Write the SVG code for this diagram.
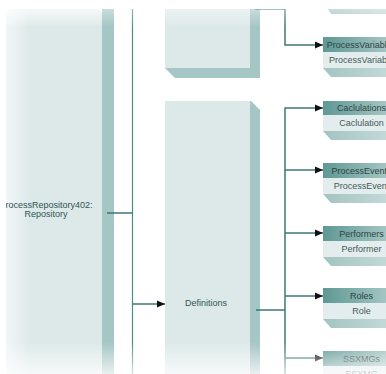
<svg xmlns="http://www.w3.org/2000/svg" width="386" height="374" viewBox="0 0 386 374">
<defs>
<style>
.node{fill:#dde9e9}
.shadow{fill:#a4c6c4}
.hdr{fill:url(#hdrGrad)}
.body{fill:#e3eded}
.bshadow{fill:url(#bshGrad)}
.ht{font-family:"Liberation Sans",Arial,sans-serif;font-size:9px;fill:#2e4443;text-anchor:middle}
.bt{font-family:"Liberation Sans",Arial,sans-serif;font-size:9px;fill:#445a59;text-anchor:middle}
.nt{font-family:"Liberation Sans",Arial,sans-serif;font-size:9px;fill:#2f5553;text-anchor:middle}
.ln{fill:none;stroke:#3d7773;stroke-width:1.5}
</style>
<linearGradient id="hdrGrad" x1="0" y1="0" x2="1" y2="0">
<stop offset="0" stop-color="#5e9894"/>
<stop offset="1" stop-color="#b3cfcd"/>
</linearGradient>
<linearGradient id="bshGrad" x1="0" y1="0" x2="1" y2="0">
<stop offset="0" stop-color="#a2c4c2"/>
<stop offset="1" stop-color="#c9dddc"/>
</linearGradient>
<linearGradient id="leftGlow" x1="0" y1="0" x2="1" y2="0">
<stop offset="0" stop-color="#ffffff" stop-opacity="0.6"/>
<stop offset="1" stop-color="#ffffff" stop-opacity="0"/>
</linearGradient>
<linearGradient id="topGlow" x1="0" y1="0" x2="0" y2="1">
<stop offset="0" stop-color="#ffffff" stop-opacity="0.5"/>
<stop offset="1" stop-color="#ffffff" stop-opacity="0"/>
</linearGradient>
<linearGradient id="topFade" x1="0" y1="0" x2="0" y2="1">
<stop offset="0" stop-color="#ffffff" stop-opacity="0.4"/>
<stop offset="1" stop-color="#ffffff" stop-opacity="0"/>
</linearGradient>
<linearGradient id="botFade" x1="0" y1="0" x2="0" y2="1">
<stop offset="0" stop-color="#ffffff" stop-opacity="0"/>
<stop offset="1" stop-color="#ffffff" stop-opacity="0.75"/>
</linearGradient>
<marker id="arr" viewBox="0 0 8 8" refX="8" refY="4" markerWidth="8" markerHeight="8" markerUnits="userSpaceOnUse" orient="auto">
<path d="M0,0.5 L8,4 L0,7.5 Z" fill="#111"/>
</marker>
<clipPath id="leftClip"><rect x="6" y="9" width="96" height="370" rx="5"/></clipPath>
</defs>

<g id="repository">
<rect class="node" x="6" y="9" width="96" height="380" rx="5"/>
<g clip-path="url(#leftClip)">
<rect x="6" y="9" width="24" height="370" fill="url(#leftGlow)"/>
<rect x="6" y="9" width="96" height="18" fill="url(#topGlow)"/>
<text class="nt" x="46" y="208">ProcessRepository402:</text>
<text class="nt" x="46" y="217">Repository</text>
</g>
<rect class="shadow" x="102" y="9" width="12" height="370"/>
</g>

<g id="topnode">
<polygon class="shadow" points="250,9 260,9 260,78 175,78 165,68 250,68"/>
<rect class="node" x="165" y="9" width="85" height="59"/>
</g>

<g id="definitions">
<polygon class="shadow" points="250,101 251,101 260,110 260,380 250,380"/>
<rect class="node" x="165" y="101" width="85" height="280"/>
<text class="nt" x="206" y="306">Definitions</text>
</g>

<g id="above-node">
<polygon class="bshadow" points="325,5 400,5 400,14 331,14"/>
</g>

<g id="processvariables">
<polygon class="bshadow" points="323,68 400,68 400,77 331,77"/>
<rect class="hdr" x="323" y="37" width="77" height="15"/>
<rect class="body" x="323" y="52" width="77" height="16"/>
<text class="ht" x="361.5" y="47.5">ProcessVariables</text>
<text class="bt" x="361.5" y="63">ProcessVariable</text>
</g>

<g id="caclulations">
<polygon class="bshadow" points="323,131 400,131 400,140 331,140"/>
<rect class="hdr" x="323" y="101" width="77" height="14"/>
<rect class="body" x="323" y="115" width="77" height="16"/>
<text class="ht" x="361.5" y="111">Caclulations</text>
<text class="bt" x="361.5" y="126">Caclulation</text>
</g>

<g id="processevents">
<polygon class="bshadow" points="323,194 400,194 400,203 331,203"/>
<rect class="hdr" x="323" y="163" width="77" height="15"/>
<rect class="body" x="323" y="178" width="77" height="16"/>
<text class="ht" x="361.5" y="173.5">ProcessEvents</text>
<text class="bt" x="361.5" y="189">ProcessEvent</text>
</g>

<g id="performers">
<polygon class="bshadow" points="323,257 400,257 400,266 331,266"/>
<rect class="hdr" x="323" y="226" width="77" height="15"/>
<rect class="body" x="323" y="241" width="77" height="16"/>
<text class="ht" x="361.5" y="236.5">Performers</text>
<text class="bt" x="361.5" y="252">Performer</text>
</g>

<g id="roles">
<polygon class="bshadow" points="323,319 400,319 400,328 331,328"/>
<rect class="hdr" x="323" y="288" width="77" height="15"/>
<rect class="body" x="323" y="303" width="77" height="16"/>
<text class="ht" x="361.5" y="298.5">Roles</text>
<text class="bt" x="361.5" y="314">Role</text>
</g>

<g id="ssxmgs">
<rect class="hdr" x="323" y="351" width="77" height="15"/>
<rect class="body" x="323" y="366" width="77" height="16"/>
<text class="ht" x="361.5" y="361.5">SSXMGs</text>
<text class="bt" x="361.5" y="377">SSXMG</text>
</g>

<g id="connectors">
<line x1="132.5" y1="9" x2="132.5" y2="380" stroke="#4f8c88" stroke-width="1.2"/>
<line class="ln" x1="107" y1="213" x2="132.5" y2="213"/>
<line class="ln" x1="132.5" y1="304" x2="165" y2="304" marker-end="url(#arr)"/>
<path class="ln" d="M255,9 H285 V45 H323" marker-end="url(#arr)"/>
<line class="ln" x1="256" y1="310" x2="285" y2="310"/>
<line class="ln" x1="285" y1="107.5" x2="285" y2="380"/>
<line class="ln" x1="285" y1="108" x2="323" y2="108" marker-end="url(#arr)"/>
<line class="ln" x1="285" y1="170" x2="323" y2="170" marker-end="url(#arr)"/>
<line class="ln" x1="285" y1="233" x2="323" y2="233" marker-end="url(#arr)"/>
<line class="ln" x1="285" y1="296" x2="323" y2="296" marker-end="url(#arr)"/>
<line class="ln" x1="285" y1="358" x2="323" y2="358" marker-end="url(#arr)"/>
</g>

<rect x="0" y="0" width="386" height="9" fill="#ffffff"/>
<rect x="0" y="9" width="386" height="18" fill="url(#topFade)"/>
<rect x="0" y="342" width="386" height="32" fill="url(#botFade)"/>
</svg>
